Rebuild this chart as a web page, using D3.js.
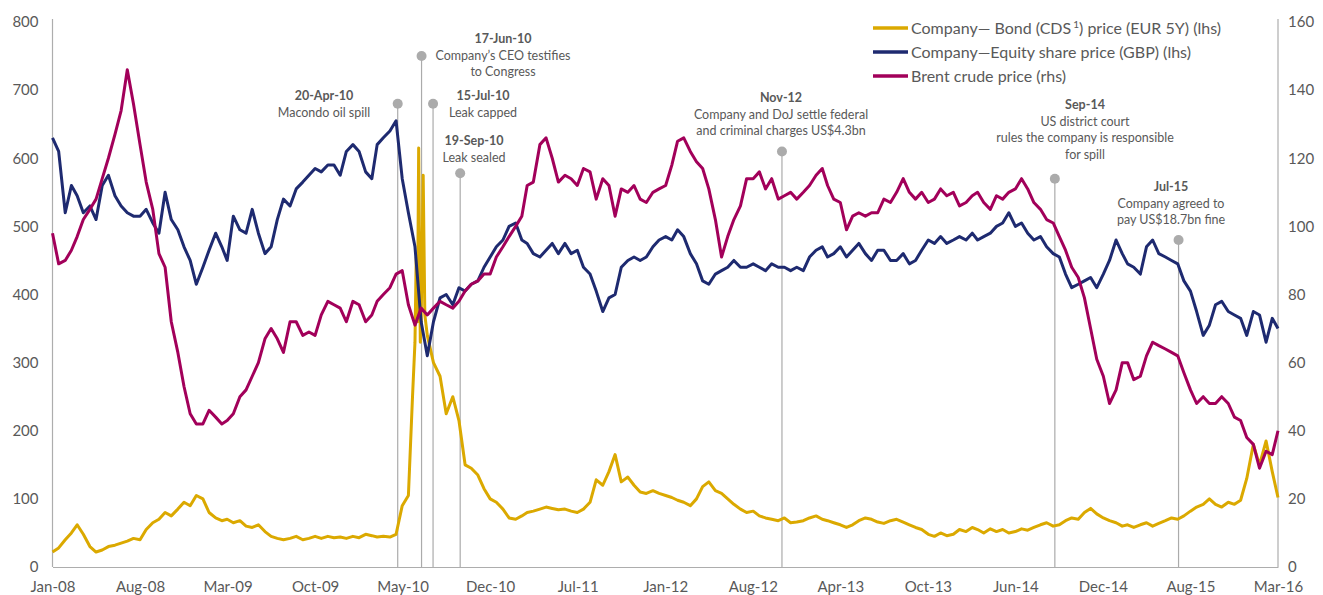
<!DOCTYPE html>
<html>
<head>
<meta charset="utf-8">
<script src="https://cdn.jsdelivr.net/npm/d3@7"></script>
<style>
  body { margin: 0; background: #fff; }
  text { font-family: Lato, "Open Sans", sans-serif; fill: #595959; }
</style>
</head>
<body>
<div id="chart"></div>
<script>
// Chart values
// x grid: 1st and 16th of every month, Jan-08 .. Mar-16
var months = [
  "2008-01","2008-02","2008-03","2008-04","2008-05","2008-06","2008-07","2008-08","2008-09","2008-10","2008-11","2008-12",
  "2009-01","2009-02","2009-03","2009-04","2009-05","2009-06","2009-07","2009-08","2009-09","2009-10","2009-11","2009-12",
  "2010-01","2010-02","2010-03","2010-04","2010-05","2010-06","2010-07","2010-08","2010-09","2010-10","2010-11","2010-12",
  "2011-01","2011-02","2011-03","2011-04","2011-05","2011-06","2011-07","2011-08","2011-09","2011-10","2011-11","2011-12",
  "2012-01","2012-02","2012-03","2012-04","2012-05","2012-06","2012-07","2012-08","2012-09","2012-10","2012-11","2012-12",
  "2013-01","2013-02","2013-03","2013-04","2013-05","2013-06","2013-07","2013-08","2013-09","2013-10","2013-11","2013-12",
  "2014-01","2014-02","2014-03","2014-04","2014-05","2014-06","2014-07","2014-08","2014-09","2014-10","2014-11","2014-12",
  "2015-01","2015-02","2015-03","2015-04","2015-05","2015-06","2015-07","2015-08","2015-09","2015-10","2015-11","2015-12",
  "2016-01","2016-02","2016-03"
];

// Company bond CDS (EUR 5Y), lhs
var bondValues = [
  22,28,40,50,62,48,30,22,25,30,32,35,38,42,40,55,65,70,80,75,85,95,90,105,
  100,80,72,68,70,65,68,60,58,62,52,45,42,40,42,45,40,42,45,42,45,43,44,42,
  45,43,48,46,44,45,44,48,90,105,330,360,340,300,280,225,250,215,150,145,135,115,100,95,
  85,72,70,75,80,82,85,88,86,84,85,82,80,85,95,128,120,140,165,125,132,120,110,108,
  112,108,105,102,98,95,90,100,118,125,112,108,100,92,85,80,82,75,72,70,68,72,65,66,
  68,72,75,70,68,65,62,58,62,68,72,70,66,64,68,70,66,62,58,55,48,45,50,46,
  48,55,52,58,55,50,56,52,55,50,52,56,54,58,62,65,60,62,68,72,70,80,86,78,
  72,68,65,60,62,58,62,65,60,64,68,72,70,75,82,88,92,100,92,88,95,92,98,130,
  180,150,185,140,102
];
// extra daily points for the 2010 CDS spike
var bondSpikeDates = ["2010-05-26","2010-06-04","2010-06-07","2010-06-10","2010-06-14","2010-06-21","2010-06-25"];
var bondSpikeValues = [250, 455, 360, 615, 330, 575, 370];

// Company equity share price (GBP pence), lhs
var equityValues = [
  630,610,520,560,545,520,530,510,560,575,545,530,520,515,515,525,505,490,550,510,495,470,450,415,
  440,465,490,470,450,515,495,490,525,490,460,470,510,540,530,555,565,575,585,580,590,590,575,610,
  620,610,580,570,620,630,640,655,570,520,470,360,310,360,395,400,385,410,405,415,420,440,455,470,
  480,500,505,480,475,460,455,465,475,460,475,460,465,440,430,405,375,395,400,440,450,455,450,455,
  470,480,485,480,495,485,460,445,420,415,430,435,440,450,440,440,445,440,435,445,440,440,435,440,
  435,455,465,470,455,460,470,455,465,475,460,450,465,465,450,450,460,445,450,465,480,475,485,475,
  480,485,480,490,480,485,490,500,505,520,500,505,490,480,485,470,460,455,430,410,415,420,425,410,
  430,450,480,460,445,440,430,470,480,460,455,450,445,420,405,375,340,355,385,390,375,370,365,340,
  375,370,330,365,350
];

// Brent crude (USD), rhs
var brentValues = [
  98,89,90,93,97,102,105,108,114,120,127,134,146,136,124,113,105,92,88,72,63,53,45,42,
  42,46,44,42,43,45,50,52,56,60,67,70,67,63,72,72,68,69,68,74,78,77,76,72,
  78,77,72,74,78,80,82,86,87,77,71,76,74,76,78,77,76,78,81,83,84,86,86,91,
  94,97,100,103,112,113,124,126,120,113,115,114,112,117,116,108,114,112,103,111,110,112,108,107,
  110,111,112,118,125,126,122,119,117,111,102,91,97,102,106,114,114,116,111,114,108,109,110,108,
  110,112,115,117,112,108,107,99,103,104,103,104,104,108,107,110,114,110,108,110,107,108,111,109,
  110,106,107,109,110,107,105,109,108,110,111,114,111,107,105,102,101,97,93,88,85,79,70,61,
  56,48,52,60,60,55,56,62,66,65,64,63,62,57,52,48,50,48,48,50,48,44,43,38,
  36,29,34,33,40
];

var seriesNames = ["Company\u2014 Bond (CDS", "Company\u2014Equity share price (GBP) (lhs)", "Brent crude price (rhs)"];
var seriesColors = ["#DBA900", "#1E2A70", "#A2005A"];

var tickDates = ["2008-01-01","2008-08-01","2009-03-02","2009-10-01","2010-05-02","2010-12-01","2011-07-02",
  "2012-01-31","2012-08-31","2013-04-01","2013-10-31","2014-06-01","2014-12-31","2015-08-01","2016-03-01"];
var leftTicks = [0, 100, 200, 300, 400, 500, 600, 700, 800];
var rightTicks = [0, 20, 40, 60, 80, 100, 120, 140, 160];

var eventDates = ["2010-04-20","2010-06-17","2010-07-15","2010-09-19","2012-11-10","2014-09-05","2015-07-03"];
var eventTitles = ["20-Apr-10","17-Jun-10","15-Jul-10","19-Sep-10","Nov-12","Sep-14","Jul-15"];
var eventNotes = [
  ["Macondo oil spill"],
  ["Company\u2019s CEO testifies", "to Congress"],
  ["Leak capped"],
  ["Leak sealed"],
  ["Company and DoJ settle federal", "and criminal charges US$4.3bn"],
  ["US district court", "rules the company is responsible", "for spill"],
  ["Company agreed to", "pay US$18.7bn fine"]
];
var eventLevels = [680, 750, 680, 578, 610, 570, 480];

// where each note block sits (text centre x, baseline of the bold line)
var noteLayout = [
  {cx: 324, y: 100}, {cx: 503, y: 43}, {cx: 483, y: 100}, {cx: 474, y: 145},
  {cx: 781, y: 102}, {cx: 1085, y: 109}, {cx: 1171, y: 191}
];

// SVG area
var svgWidth = 1323;
var svgHeight = 595;
var plot = {left: 52.5, right: 1278, top: 22, bottom: 567};

var svg = d3.select("#chart")
  .append("svg")
  .attr("width", svgWidth)
  .attr("height", svgHeight);

var parseDate = d3.timeParse("%Y-%m-%d");

var gridDates = [];
months.forEach(function(m) {
  gridDates.push(m + "-01");
  gridDates.push(m + "-16");
});
gridDates = gridDates.slice(0, bondValues.length);

function toPoints(dates, values) {
  return dates.map(function(d, i) { return {date: parseDate(d), value: values[i]}; });
}

var bondData = toPoints(gridDates, bondValues)
  .concat(toPoints(bondSpikeDates, bondSpikeValues))
  .sort(function(a, b) { return a.date - b.date; });
var equityData = toPoints(gridDates, equityValues);
var brentData = toPoints(gridDates, brentValues);

// scales
var xTimeScale = d3.scaleTime()
  .domain([parseDate("2008-01-01"), parseDate("2016-03-01")])
  .range([plot.left, plot.right]);

var yLeftScale = d3.scaleLinear().domain([0, 800]).range([plot.bottom, plot.top]);
var yRightScale = d3.scaleLinear().domain([0, 160]).range([plot.bottom, plot.top]);

// axes
var bottomAxis = d3.axisBottom(xTimeScale)
  .tickValues(tickDates.map(parseDate))
  .tickFormat(d3.timeFormat("%b-%y"))
  .tickSize(0)
  .tickPadding(14);

var leftAxis = d3.axisLeft(yLeftScale).tickValues(leftTicks).tickSize(0).tickPadding(14);
var rightAxis = d3.axisRight(yRightScale).tickValues(rightTicks).tickSize(0).tickPadding(10);

var xAxisG = svg.append("g")
  .attr("transform", `translate(0, ${plot.bottom})`)
  .call(bottomAxis);
var leftAxisG = svg.append("g")
  .attr("transform", `translate(${plot.left}, 0)`)
  .call(leftAxis);
var rightAxisG = svg.append("g")
  .attr("transform", `translate(${plot.right}, 0)`)
  .call(rightAxis);

[xAxisG, leftAxisG, rightAxisG].forEach(function(g) {
  g.select(".domain").attr("stroke", "#ADADAD").attr("stroke-width", 1.2);
  g.selectAll("text").attr("font-size", "15px").attr("font-family", "Lato, sans-serif").attr("fill", "#595959");
});
leftAxisG.select(".domain").attr("d", `M0,${plot.top - 3}V${plot.bottom}`);
rightAxisG.select(".domain").attr("d", `M0,${plot.top - 3}V${plot.bottom}`);

// event lines and markers (under the series)
var eventGroup = svg.append("g");
eventDates.forEach(function(d, i) {
  var x = xTimeScale(parseDate(d));
  var y = yLeftScale(eventLevels[i]);
  eventGroup.append("line")
    .attr("x1", x).attr("x2", x)
    .attr("y1", y).attr("y2", plot.bottom)
    .attr("stroke", "#ABABAB")
    .attr("stroke-width", 1.2);
  eventGroup.append("circle")
    .attr("cx", x).attr("cy", y)
    .attr("r", 5)
    .attr("fill", "#ABABAB");
});

// series lines
var line = d3.line()
  .x(d => xTimeScale(d.date));

var seriesList = [
  {data: bondData, y: yLeftScale},
  {data: equityData, y: yLeftScale},
  {data: brentData, y: yRightScale}
];

seriesList.forEach(function(s, i) {
  svg.append("path")
    .datum(s.data)
    .attr("fill", "none")
    .attr("stroke", seriesColors[i])
    .attr("stroke-width", 3)
    .attr("stroke-linejoin", "round")
    .attr("d", line.y(d => s.y(d.value)));
});

// event notes
var noteGroup = svg.append("g").attr("text-anchor", "middle").attr("font-size", "12.5px");
eventTitles.forEach(function(t, i) {
  var pos = noteLayout[i];
  noteGroup.append("text")
    .attr("x", pos.cx)
    .attr("y", pos.y)
    .attr("font-weight", "bold")
    .text(t);
  eventNotes[i].forEach(function(n, j) {
    noteGroup.append("text")
      .attr("x", pos.cx)
      .attr("y", pos.y + 16.5 * (j + 1))
      .text(n);
  });
});

// legend
var legend = svg.append("g").attr("transform", "translate(873, 28)");
seriesNames.forEach(function(name, i) {
  var row = legend.append("g").attr("transform", `translate(0, ${i * 24})`);
  row.append("line")
    .attr("x1", 0).attr("x2", 35)
    .attr("stroke", seriesColors[i])
    .attr("stroke-width", 3.5);
  var label = row.append("text")
    .attr("x", 38)
    .attr("dy", "0.35em")
    .attr("font-size", "16px")
    .text(name);
  if (i === 0) {
    label.append("tspan").attr("font-size", "10px").attr("dy", "-0.6em").attr("dx", "2").text("1");
    label.append("tspan").attr("dy", "0.4em").text(") price (EUR 5Y) (lhs)");
  }
});
</script>
</body>
</html>
